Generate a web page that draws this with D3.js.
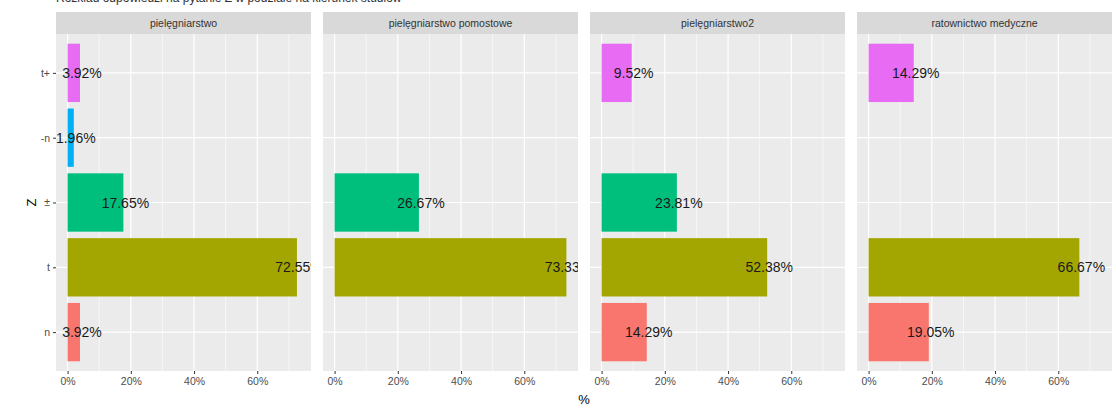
<!DOCTYPE html>
<html><head><meta charset="utf-8">
<script src="https://cdn.jsdelivr.net/npm/d3@7"></script>
<style>body{margin:0;background:#fff;} svg{display:block;font-family:"Liberation Sans",Arial,sans-serif;}</style>
</head><body>
<svg id="c" width="1116" height="410"></svg>
<script>
const facets = ["pielęgniarstwo", "pielęgniarstwo pomostowe", "pielęgniarstwo2", "ratownictwo medyczne"];
const categories = ["n", "t", "±", "-n", "t+"];   // bottom to top
const colors = ["#F8766D", "#A3A500", "#00BF7D", "#00B0F6", "#E76BF3"];
const valsPielegniarstwo = [3.92, 72.55, 17.65, 1.96, 3.92];
const valsPomostowe = [null, 73.33, 26.67, null, null];
const valsPielegniarstwo2 = [14.29, 52.38, 23.81, null, 9.52];
const valsRatownictwo = [19.05, 66.67, null, null, 14.29];
const xTicks = [0, 20, 40, 60];
const titleText = "Rozkład odpowiedzi na pytanie Z w podziale na kierunek studiów";

const series = [valsPielegniarstwo, valsPomostowe, valsPielegniarstwo2, valsRatownictwo];

const svg = d3.select("#c");
const panelLeft = 56, panelW = 255, gap = 12, stripTop = 12, stripH = 22, panelTop = 34, panelBottom = 371;

const maxV = d3.max(series.flat());
const pad = maxV * 0.05;
const x = d3.scaleLinear().domain([-pad, maxV + pad]).range([0, panelW]);
// emulate ggplot discrete: 0.6 units expansion each side, bar width 0.9
const n = categories.length;
const unit = (panelBottom - panelTop) / (n - 1 + 1.2);
const yc = d3.scalePoint().domain(categories.slice().reverse()).range([panelTop + 0.6*unit, panelBottom - 0.6*unit]);
const barH = 0.9 * unit;

svg.append("text").attr("x", 56).attr("y", 2).attr("font-size", 12).attr("fill", "#333").text(titleText);

const defs = svg.append("defs");

facets.forEach((f, i) => {
  const px = panelLeft + i * (panelW + gap);
  const g = svg.append("g").attr("transform", `translate(${px},0)`);
  g.append("rect").attr("x", 0).attr("y", stripTop).attr("width", panelW).attr("height", stripH).attr("fill", "#D9D9D9");
  g.append("text").attr("x", panelW/2).attr("y", stripTop + stripH/2 + 4).attr("text-anchor", "middle")
    .attr("font-size", 10.5).attr("fill", "#333").text(f);
  g.append("rect").attr("x", 0).attr("y", panelTop).attr("width", panelW).attr("height", panelBottom - panelTop).attr("fill", "#EBEBEB");
  [10, 30, 50, 70].forEach(v => {
    g.append("line").attr("x1", x(v)).attr("x2", x(v)).attr("y1", panelTop).attr("y2", panelBottom)
      .attr("stroke", "#fff").attr("stroke-width", 0.6);
  });
  xTicks.forEach(v => {
    g.append("line").attr("x1", x(v)).attr("x2", x(v)).attr("y1", panelTop).attr("y2", panelBottom)
      .attr("stroke", "#fff").attr("stroke-width", 1.2);
  });
  categories.forEach(c => {
    g.append("line").attr("x1", 0).attr("x2", panelW).attr("y1", yc(c)).attr("y2", yc(c))
      .attr("stroke", "#fff").attr("stroke-width", 1.2);
  });
  const clipId = "clip" + i;
  defs.append("clipPath").attr("id", clipId).append("rect")
    .attr("x", 0).attr("y", panelTop).attr("width", panelW).attr("height", panelBottom - panelTop);
  const data = categories.map((c, j) => ({c, v: series[i][j], col: colors[j]})).filter(d => d.v != null);
  const pg = g.append("g").attr("clip-path", `url(#${clipId})`);
  pg.selectAll("rect.bar").data(data).join("rect").attr("class", "bar")
    .attr("x", x(0)).attr("y", d => yc(d.c) - barH/2).attr("width", d => x(d.v) - x(0)).attr("height", barH)
    .attr("fill", d => d.col);
  pg.selectAll("text.lab").data(data).join("text").attr("class", "lab")
    .attr("x", d => x(d.v) + 2).attr("y", d => yc(d.c) + 5).attr("text-anchor", "middle")
    .attr("font-size", 14).attr("fill", "#1a1a1a").text(d => d.v.toFixed(2) + "%");
  const ax = g.append("g").attr("transform", `translate(0,${panelBottom})`)
    .call(d3.axisBottom(x).tickValues(xTicks).tickFormat(d => d + "%").tickSize(3).tickPadding(4));
  ax.select(".domain").remove();
  ax.selectAll("line").attr("stroke", "#333");
  ax.selectAll("text").attr("fill", "#4D4D4D").attr("font-size", 10.5).attr("font-family", "Liberation Sans, Arial, sans-serif");
});

const ay = svg.append("g").attr("transform", `translate(${panelLeft},0)`)
  .call(d3.axisLeft(yc).tickSize(3).tickPadding(3));
ay.select(".domain").remove();
ay.selectAll("line").attr("stroke", "#333");
ay.selectAll("text").attr("fill", "#4D4D4D").attr("font-size", 10.5).attr("font-family", "Liberation Sans, Arial, sans-serif");

svg.append("text").attr("x", panelLeft + (4*panelW + 3*gap)/2).attr("y", 404).attr("text-anchor", "middle")
  .attr("font-size", 13).attr("fill", "#000").text("%");
svg.append("text").attr("transform", `translate(36,${(panelTop+panelBottom)/2}) rotate(-90)`).attr("text-anchor", "middle")
  .attr("font-size", 13).attr("fill", "#000").text("Z");
</script>
</body></html>
